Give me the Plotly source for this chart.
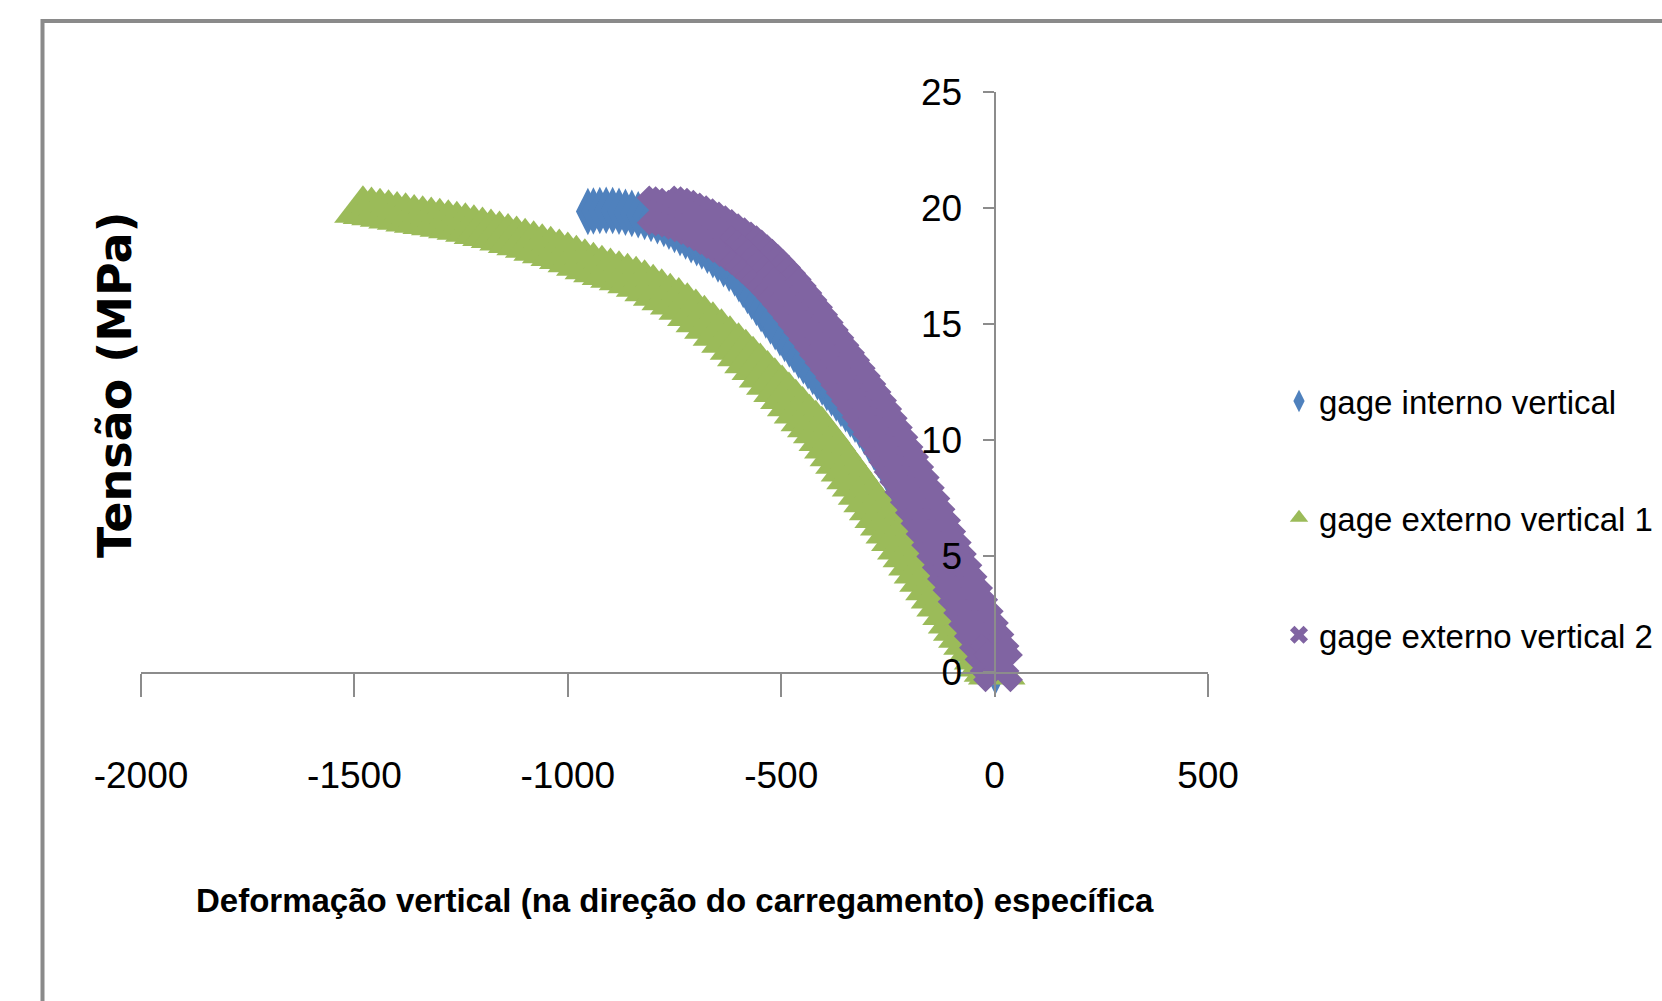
import plotly.graph_objects as go

# ---- data ----
series_names = ["gage interno vertical", "gage externo vertical 1", "gage externo vertical 2"]

interno_x = [-953, -940, -925, -910, -895, -880, -865, -850, -835, -820, -805, -790, -775, -763,
             -750, -737, -724, -711, -698, -686, -673, -660, -648, -635, -622, -609, -599, -589,
             -579, -569, -558, -547, -536, -525, -514, -503, -492, -481, -470, -459, -448, -437,
             -426, -415, -404, -393, -382, -371, -360, -349, -338, -327, -316, -305, -294, -283,
             -272, -261, -250, -239, -228, -217, -206, -195, -184, -173, -162, -151, -140, -129,
             -118, -107, -96, -85, -74, -63, -52, -41, -30, -19, -9, 2]
interno_y = [19.85, 19.87, 19.89, 19.90, 19.89, 19.86, 19.82, 19.77, 19.71, 19.64, 19.55, 19.45,
             19.33, 19.22, 19.08, 18.94, 18.79, 18.63, 18.50, 18.36, 18.18, 17.99, 17.80, 17.60,
             17.40, 17.20, 16.95, 16.70, 16.45, 16.20, 15.93, 15.66, 15.39, 15.13, 14.88, 14.63,
             14.38, 14.14, 13.90, 13.66, 13.42, 13.19, 12.96, 12.73, 12.50, 12.27, 12.04, 11.81,
             11.58, 11.35, 11.12, 10.90, 10.66, 10.37, 10.05, 9.72, 9.38, 9.03, 8.67, 8.31, 7.95,
             7.59, 7.22, 6.85, 6.48, 6.11, 5.74, 5.37, 5.00, 4.62, 4.24, 3.86, 3.48, 3.10, 2.72,
             2.34, 1.96, 1.57, 1.18, 0.79, 0.42, 0.05]

externo1_x = [-1480, -1460, -1440, -1420, -1400, -1380, -1360, -1340, -1320, -1300, -1280, -1260,
              -1240, -1220, -1200, -1180, -1160, -1140, -1120, -1100, -1080, -1060, -1040, -1020,
              -1000, -980, -960, -940, -920, -900, -880, -860, -840, -820, -800, -780, -760, -740,
              -720, -700, -680, -660, -640, -620, -600, -583, -566, -549, -532, -515, -498, -482,
              -466, -450, -434, -419, -405, -392, -379, -366, -353, -340, -327, -314, -300, -287,
              -274, -261, -248, -235, -222, -208, -195, -182, -169, -156, -142, -129, -116, -102,
              -89, -77, -65, -53, -41, -28, -16, -5, 5]
externo1_y = [19.90, 19.85, 19.79, 19.73, 19.66, 19.60, 19.53, 19.47, 19.42, 19.36, 19.30, 19.24,
              19.17, 19.08, 18.99, 18.90, 18.81, 18.71, 18.60, 18.50, 18.39, 18.27, 18.16, 18.04,
              17.91, 17.77, 17.62, 17.47, 17.34, 17.22, 17.10, 16.99, 16.86, 16.71, 16.52, 16.33,
              16.13, 15.95, 15.72, 15.45, 15.18, 14.90, 14.60, 14.30, 14.00, 13.72, 13.42, 13.12,
              12.80, 12.49, 12.18, 11.87, 11.56, 11.25, 10.92, 10.66, 10.40, 10.07, 9.74, 9.41,
              9.08, 8.75, 8.42, 8.10, 7.75, 7.42, 7.08, 6.75, 6.42, 6.08, 5.75, 5.39, 5.05, 4.70,
              4.35, 4.00, 3.63, 3.28, 2.93, 2.56, 2.20, 1.89, 1.58, 1.28, 0.98, 0.65, 0.35, 0.12,
              0.00]

externo2_x = [-780, -765, -750, -735, -720, -705, -690, -675, -660, -645, -630, -615, -600, -587,
              -575, -562, -550, -537, -525, -512, -500, -487, -475, -462, -450, -437, -425, -412,
              -400, -387, -375, -362, -350, -337, -325, -312, -300, -287, -275, -262, -250, -237,
              -225, -212, -200, -187, -175, -162, -150, -137, -125, -112, -100, -87, -75, -62,
              -50, -37, -25, -12, 0, 8]
externo2_y = [19.90, 19.86, 19.80, 19.71, 19.60, 19.48, 19.35, 19.21, 19.05, 18.88, 18.70, 18.53,
              18.35, 18.18, 18.00, 17.80, 17.60, 17.38, 17.15, 16.90, 16.65, 16.38, 16.10, 15.80,
              15.50, 15.18, 14.86, 14.53, 14.20, 13.87, 13.55, 13.22, 12.90, 12.56, 12.22, 11.88,
              11.53, 11.17, 10.80, 10.40, 10.00, 9.58, 9.16, 8.73, 8.30, 7.85, 7.40, 6.94, 6.48,
              6.00, 5.52, 5.04, 4.55, 4.06, 3.57, 3.08, 2.58, 2.08, 1.58, 1.08, 0.58, 0.20]

x_tick_vals = [-2000, -1500, -1000, -500, 0, 500]
x_tick_text = ["-2000", "-1500", "-1000", "-500", "0", "500"]
y_tick_vals = [0, 5, 10, 15, 20, 25]
y_tick_text = ["0", "5", "10", "15", "20", "25"]

x_title = "Deformação vertical (na direção do carregamento) específica"
y_title = "Tensão (MPa)"

# ---- styling ----
FONT = "Liberation Sans, Arial, sans-serif"
AXIS_GRAY = "#8c8c8c"
colors = ["#4F81BD", "#9BBB59", "#8064A2"]
symbols = ["diamond-tall", "triangle-up", "x"]
sizes = [34, 50, 44]

fig = go.Figure()
for i, (xs, ys) in enumerate([(interno_x, interno_y), (externo1_x, externo1_y), (externo2_x, externo2_y)]):
    fig.add_trace(go.Scatter(
        x=xs, y=ys, mode="markers", name=series_names[i], legendgroup=f"g{i}",
        cliponaxis=False,
        marker=dict(symbol=symbols[i], size=sizes[i], color=colors[i], line=dict(width=0)),
    ))

W, H = 1662, 1001
ml, mr, mt, mb = 141, 454, 92, 329
pw, ph = W - ml - mr, H - mt - mb

def px_x(p):
    return (p - ml) / pw

def px_y(p):
    return (H - mb - p) / ph

fig.update_layout(
    width=W, height=H,
    margin=dict(l=ml, r=mr, t=mt, b=mb, autoexpand=False),
    paper_bgcolor="white", plot_bgcolor="white",
    showlegend=True,
    legend=dict(
        x=px_x(1279), y=px_y(373), xanchor="left", yanchor="top",
        font=dict(family=FONT, size=33, color="black"),
        tracegroupgap=71, bgcolor="rgba(0,0,0,0)",
    ),
    xaxis=dict(
        range=[-2000, 500], tickvals=x_tick_vals, ticktext=x_tick_text,
        showgrid=False, zeroline=False, showline=True, linecolor=AXIS_GRAY, linewidth=2,
        ticks="outside", ticklen=23, tickwidth=2, tickcolor=AXIS_GRAY,
        tickfont=dict(family=FONT, size=37, color="black"), ticklabelstandoff=47,
    ),
    yaxis=dict(
        range=[0, 25], tickvals=y_tick_vals, ticktext=y_tick_text,
        anchor="free", position=0.8,
        showgrid=False, zeroline=False, showline=True, linecolor=AXIS_GRAY, linewidth=2,
        ticks="outside", ticklen=11, tickwidth=2, tickcolor=AXIS_GRAY,
        tickfont=dict(family=FONT, size=37, color="black"), ticklabelstandoff=13,
    ),
    shapes=[dict(type="rect", xref="paper", yref="paper",
                 x0=px_x(42.5), x1=1.6, y0=-0.8, y1=px_y(21),
                 line=dict(color="#8a8a8a", width=4), fillcolor="rgba(0,0,0,0)", layer="below")],
    annotations=[
        dict(text=x_title, xref="paper", yref="paper", x=0.5, y=px_y(900),
             xanchor="center", yanchor="middle", showarrow=False,
             font=dict(family=FONT, size=33, color="black", weight="bold")),
        dict(text=y_title, xref="paper", yref="paper", x=px_x(115), y=px_y(385),
             xanchor="center", yanchor="middle", showarrow=False, textangle=-90,
             font=dict(family="DejaVu Sans", size=46, color="black", weight="bold")),
    ],
)

fig.write_html("out.html", config={"displayModeBar": False},
               post_script="document.body.style.margin='0px';")
